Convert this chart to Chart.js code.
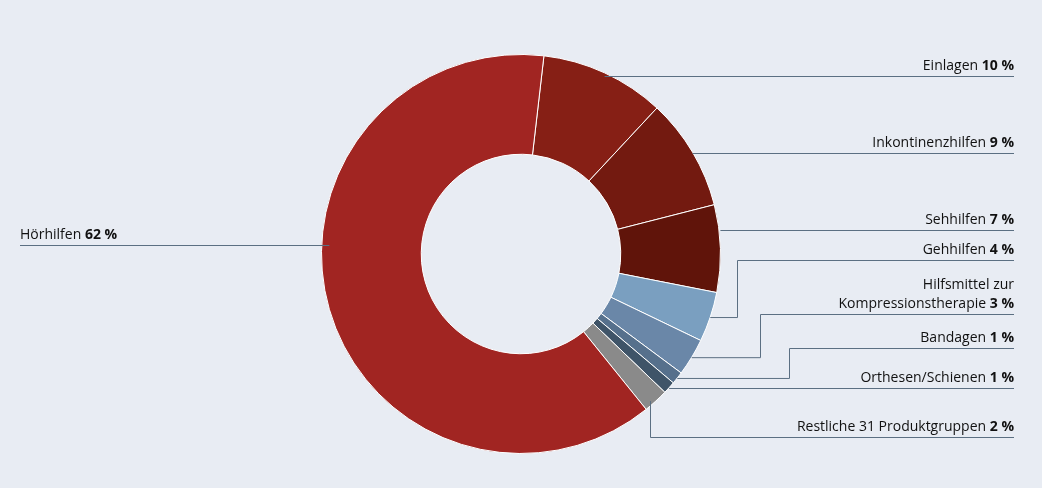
<!DOCTYPE html>
<html><head><meta charset="utf-8">
<script src="https://cdn.jsdelivr.net/npm/chart.js@4"></script>
<style>html,body{margin:0;padding:0;background:#e8ecf3;}#w{width:1042px;height:488px;}</style>
</head><body><div id="w"><canvas id="c"></canvas></div>
<script>
const categories = ["Einlagen","Inkontinenzhilfen","Sehhilfen","Gehhilfen","Hilfsmittel zur Kompressionstherapie","Bandagen","Orthesen/Schienen","Restliche 31 Produktgruppen","Hörhilfen"];
const values = [10,9,7,4,3,1,1,2,62];
const colors = ["#861f15","#731a10","#60140a","#7a9fc0","#6a87a8","#56708c","#3f5468","#8a8a8a","#a12522"];
// label layout: line y, optional elbow x, text lines
const labelLines = [
  {y:76, lines:["Einlagen"]},
  {y:153, lines:["Inkontinenzhilfen"]},
  {y:230, lines:["Sehhilfen"]},
  {y:260, ex:737, lines:["Gehhilfen"]},
  {y:314, ex:760, lines:["Hilfsmittel zur","Kompressionstherapie"]},
  {y:348, ex:789, lines:["Bandagen"]},
  {y:388, lines:["Orthesen/Schienen"]},
  {y:437, ex:650, lines:["Restliche 31 Produktgruppen"]},
  {y:245, left:true, lines:["Hörhilfen"]}
];
const F = '"Open Sans", "Noto Sans", sans-serif';
const labelPlugin = {
  id:'lbl',
  afterDraw(chart){
    const ctx = chart.ctx;
    const arcs = chart.getDatasetMeta(0).data;
    ctx.save();
    ctx.strokeStyle = '#5b6f82'; ctx.lineWidth = 1;
    ctx.fillStyle = '#111'; ctx.textBaseline = 'alphabetic';
    arcs.forEach((a,i)=>{
      const L = labelLines[i];
      const mid = (a.startAngle + a.endAngle)/2;
      const r = a.outerRadius;
      const ax = a.x + Math.cos(mid)*r, ay = a.y + Math.sin(mid)*r;
      ctx.beginPath();
      if (L.left) {
        ctx.moveTo(ax, L.y+0.5); ctx.lineTo(20, L.y+0.5);
      } else if (L.ex !== undefined) {
        if (L.ex < ax+5) { ctx.moveTo(L.ex+0.5, ay); }
        else { ctx.moveTo(ax, ay+0.5); ctx.lineTo(L.ex+0.5, ay+0.5); }
        ctx.lineTo(L.ex+0.5, L.y+0.5); ctx.lineTo(1014, L.y+0.5);
      } else {
        ctx.moveTo(ax, L.y+0.5); ctx.lineTo(1014, L.y+0.5);
      }
      ctx.stroke();
      const pct = values[i] + ' %';
      const n = L.lines.length;
      L.lines.forEach((t,k)=>{
        const ty = L.y - 6 - (n-1-k)*19;
        const last = k===n-1;
        ctx.font = '14px '+F; const wr = ctx.measureText(t + (last?' ':'')).width;
        ctx.font = 'bold 14px '+F; const wb = last ? ctx.measureText(pct).width : 0;
        let x0 = L.left ? 20 : 1014 - wr - wb;
        ctx.textAlign='left';
        ctx.font = '14px '+F; ctx.fillText(t + (last?' ':''), x0, ty);
        if (last) { ctx.font = 'bold 14px '+F; ctx.fillText(pct, x0+wr, ty); }
      });
    });
    ctx.restore();
  }
};
new Chart(document.getElementById('c'), {
  type:'doughnut',
  data:{labels:categories, datasets:[{data:values, backgroundColor:colors, borderColor:'#ffffff', borderWidth:1}]},
  options:{
    responsive:true, maintainAspectRatio:false, animation:false,
    cutout:'50%', rotation:6.6,
    layout:{padding:{top:54,bottom:34}},
    plugins:{legend:{display:false}, tooltip:{enabled:false}}
  },
  plugins:[labelPlugin]
});
</script></body></html>
